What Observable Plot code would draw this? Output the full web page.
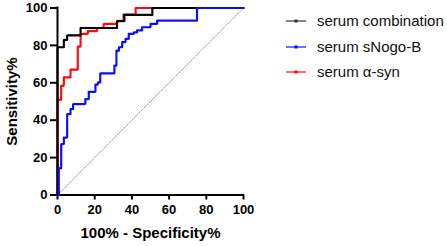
<!DOCTYPE html>
<html><head><meta charset="utf-8">
<script src="https://cdn.jsdelivr.net/npm/d3@7"></script>
<script src="https://cdn.jsdelivr.net/npm/@observablehq/plot@0.6"></script>
<style>
body{margin:0;background:#fff;font-family:"Liberation Sans",Arial,sans-serif;}
#wrap{position:relative;width:447px;height:246px;overflow:hidden;}
.row{position:absolute;left:286px;height:20px;display:flex;align-items:center;white-space:nowrap;font-size:15px;color:#111;}
.row svg{margin-right:11px;}
</style></head><body>
<div id="wrap"><div id="chart"></div></div>
<script>
const seriesNames = ["serum combination", "serum sNogo-B", "serum α-syn"];
const seriesColors = ["#000000", "#0a0aff", "#ff0a0a"];
const xTitle = "100% - Specificity%";
const yTitle = "Sensitivity%";
const xTicks = [0, 20, 40, 60, 80, 100];
const yTicks = [0, 20, 40, 60, 80, 100];

// ROC corner points (step-after)
const combX = [0, 0, 3.4, 5.2, 12.4, 32, 36, 51, 100];
const combY = [0, 79, 83, 85.4, 89.3, 93, 96.3, 100, 100];
const nogoX = [0.7, 0.7, 2, 3.4, 5.2, 7, 8.4, 15, 16.8, 20.4, 21.7, 23, 30.6, 31.7, 33, 34.8, 36.6, 38.3, 41, 42.8, 45.5, 50, 53.6, 75, 100];
const nogoY = [0, 14.3, 27.2, 30.7, 43.3, 46, 48.6, 51.3, 55.2, 59, 60.2, 65, 69.2, 77.2, 79, 81.7, 83.5, 86.2, 87, 88, 89.7, 91.5, 93.3, 100, 100];
const synX = [0, 0, 2, 3.4, 7, 10.9, 12.4, 16.3, 21.3, 24.8, 32, 35.5, 42, 100];
const synY = [0, 51, 58.4, 62.9, 67, 79.3, 86.2, 87.6, 89.3, 91.5, 93.1, 96.5, 100, 100];
const diagX = [0, 100];
const diagY = [0, 100];

function rocMarks(xs, ys, color) {
  const d = xs.map((x, i) => ({x, y: ys[i]}));
  return [
    Plot.line(d, {x: "x", y: "y", curve: "step-after", stroke: color, strokeWidth: 1}),
    Plot.line(d, {x: "x", y: "y", curve: "step-after", stroke: color, strokeWidth: 2.2, strokeDasharray: "1,1"})
  ];
}

const diag = diagX.map((x, i) => ({x, y: diagY[i]}));

const chart = Plot.plot({
  width: 447,
  height: 246,
  marginLeft: 57,
  marginRight: 204,
  marginTop: 7.5,
  marginBottom: 51.5,
  x: {domain: [0, 100]},
  y: {domain: [0, 100]},
  style: {fontFamily: "'Liberation Sans', Arial, sans-serif", background: "#fff", overflow: "visible"},
  marks: [
    Plot.line(diag, {x: "x", y: "y", stroke: "#999", strokeWidth: 1, strokeDasharray: "2,1.5"}),
    Plot.axisX({ticks: xTicks, tickSize: 5, tickPadding: 5, fontSize: 13, fontWeight: "bold", strokeWidth: 2, label: null, fill: "#000"}),
    Plot.axisY({ticks: yTicks, tickSize: 7, tickPadding: 3, fontSize: 13, fontWeight: "bold", strokeWidth: 2, label: null, fill: "#000"}),
    Plot.ruleY([0], {stroke: "#000", strokeWidth: 2, strokeLinecap: "square"}),
    Plot.ruleX([0], {stroke: "#000", strokeWidth: 2, strokeLinecap: "square"}),
    ...rocMarks(synX, synY, seriesColors[2]),
    ...rocMarks(combX, combY, seriesColors[0]),
    ...rocMarks(nogoX, nogoY, seriesColors[1]),
    Plot.text([yTitle], {frameAnchor: "left", dx: -45, rotate: -90, fontSize: 15, fontWeight: "bold", textAnchor: "middle", lineAnchor: "middle", fill: "#000"}),
    Plot.text([xTitle], {frameAnchor: "bottom", dy: 38.5, fontSize: 15, fontWeight: "bold", textAnchor: "middle", lineAnchor: "middle", fill: "#000"})
  ]
});
document.getElementById("chart").appendChild(chart);

const wrap = document.getElementById("wrap");
const rowCenters = [20.7, 46.7, 71.7];
seriesNames.forEach((name, i) => {
  const row = document.createElement("div");
  row.className = "row";
  row.style.top = (rowCenters[i] - 10) + "px";
  const c = i === 0 ? "#333" : seriesColors[i];
  row.innerHTML = `<svg width="20" height="10"><line x1="0" x2="20" y1="5" y2="5" stroke="${c}" stroke-width="1.2"/><rect x="8.5" y="3.5" width="3" height="3" fill="${c}"/></svg><span>${name}</span>`;
  wrap.appendChild(row);
});
</script>
</body></html>
